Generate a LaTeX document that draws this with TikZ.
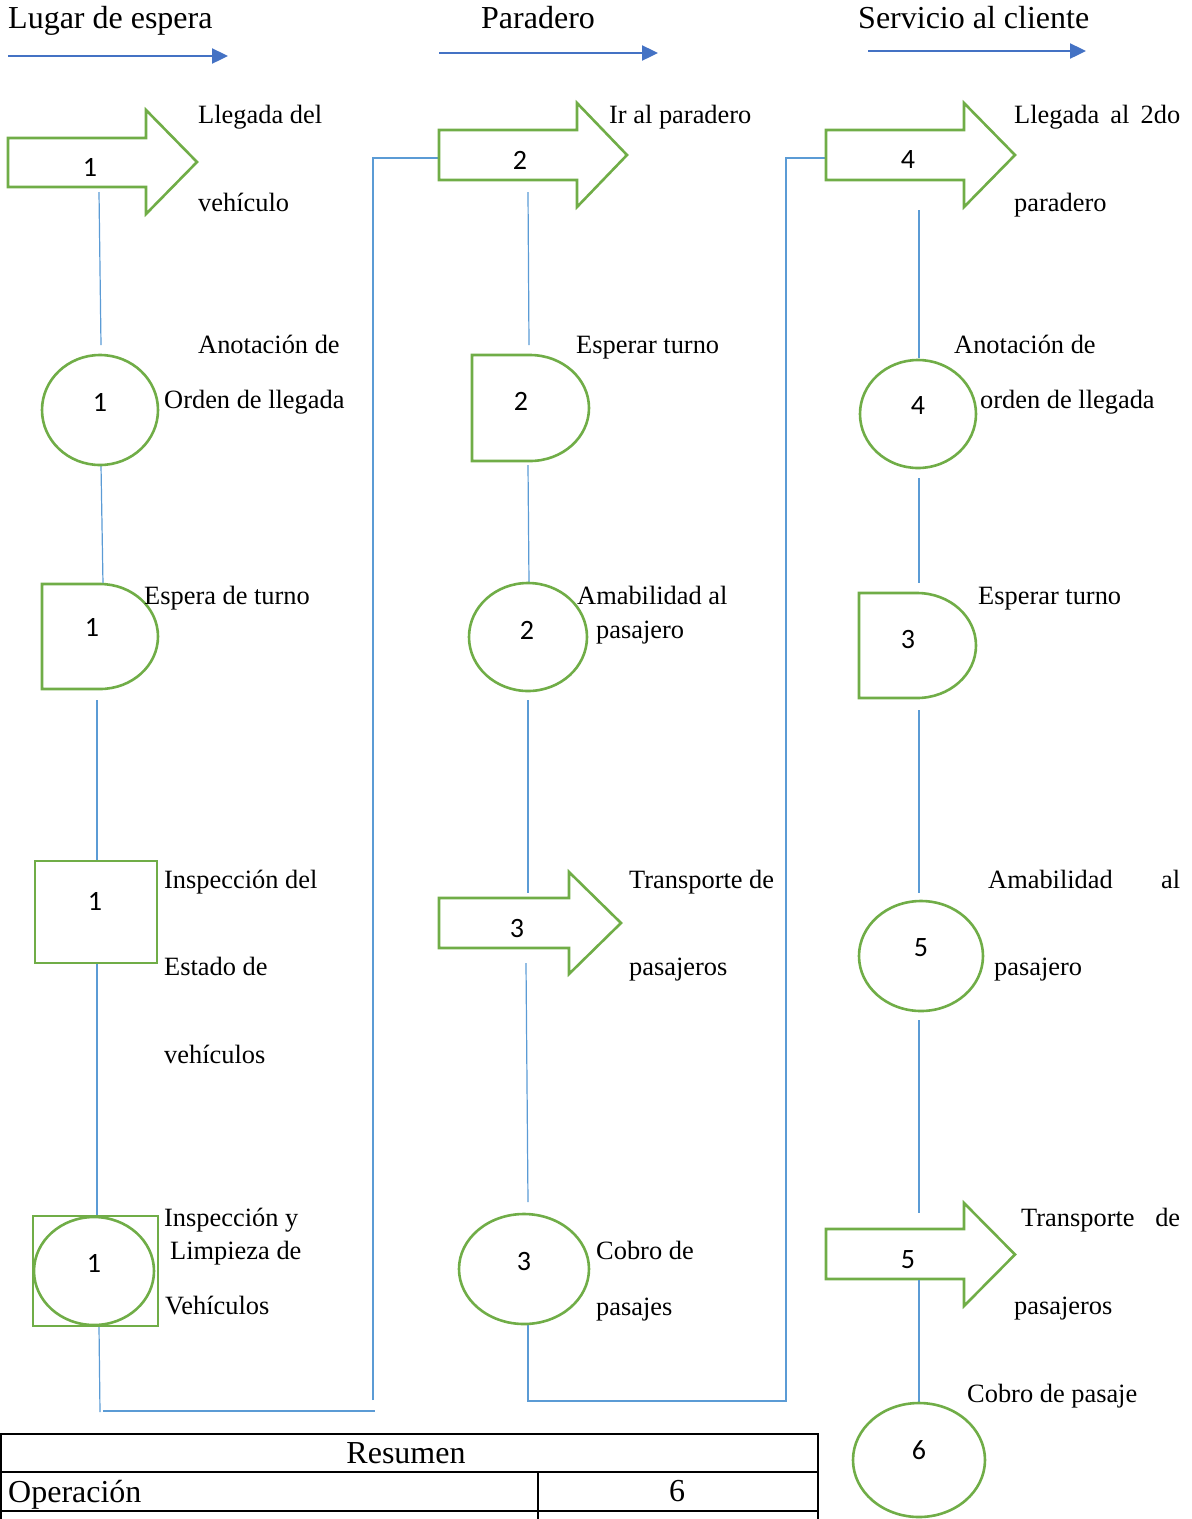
\documentclass[tikz,border=0pt]{standalone}
\usepackage{fontspec}
\setmainfont{Liberation Serif}
\newfontfamily\numfont{Carlito}
\usetikzlibrary{arrows.meta}
\definecolor{shapegreen}{HTML}{70AD47}
\definecolor{linkblue}{HTML}{5B9BD5}
\definecolor{headblue}{HTML}{4472C4}
\tikzset{
  shp/.style={draw=shapegreen, line width=2.6pt, line join=miter},
  conn/.style={draw=linkblue, line width=1.2pt},
  headarrow/.style={draw=headblue, line width=2.4pt, -{Triangle[length=16pt,width=15pt,fill=headblue]}},
  lbl/.style={anchor=base west, inner sep=0pt, font=\fontsize{26.4pt}{30pt}\selectfont},
  head/.style={anchor=base west, inner sep=0pt, font=\fontsize{32pt}{36pt}\selectfont},
  num/.style={inner sep=0pt, font=\numfont\fontsize{28pt}{32pt}\selectfont},
  tline/.style={draw=black, line width=2.4pt},
  ttext/.style={inner sep=0pt, font=\fontsize{32pt}{36pt}\selectfont},
}
% block arrow: shaft left x, shaft top, shaft bottom, head x, head top, head bottom, tip x
\newcommand{\blockarrow}[7]{%
  \path[shp, fill=white] (#1,#2) -- (#4,#2) -- (#4,#5) -- (#7,{(#5+#6)/2}) -- (#4,#6) -- (#4,#3) -- (#1,#3) -- cycle;}
% delay shape: left x, top, bottom, start of the curve x, curve x radius
\newcommand{\delayshape}[5]{%
  \path[shp, fill=white] (#1,#2) -- (#4,#2) arc[start angle=90, end angle=-90, x radius=#5pt, y radius={(#3-#2)/2*1pt}] -- (#1,#3) -- cycle;}
\begin{document}
\begin{tikzpicture}[x=1pt, y=-1pt]
\useasboundingbox (0,0) rectangle (1192,1519);

% ---- section headings ----
\node[head] (h1) at (8,28) {Lugar de espera};
\node[head] (h2) at (481,28) {Paradero};
\node[head] (h3) at (858,28) {Servicio al cliente};
\coordinate (h1a) at (8,56);   \coordinate (h1b) at (228,56);
\coordinate (h2a) at (439,53); \coordinate (h2b) at (658,53);
\coordinate (h3a) at (868,51); \coordinate (h3b) at (1086,51);
\draw[headarrow] (h1a) -- (h1b);
\draw[headarrow] (h2a) -- (h2b);
\draw[headarrow] (h3a) -- (h3b);

% ---- connectors ----
\coordinate (p1) at (99,192);   \coordinate (p2) at (101,345);
\coordinate (p3) at (101,465);  \coordinate (p4) at (103,584);
\coordinate (p5) at (97,700);   \coordinate (p6) at (97,860);
\coordinate (p7) at (97,963);   \coordinate (p8) at (97,1216);
\coordinate (p9) at (99,1326);  \coordinate (p10) at (100,1412);
\coordinate (q1) at (103,1411); \coordinate (q2) at (375,1411);
\coordinate (q3) at (373,1400); \coordinate (q4) at (373,158);
\coordinate (q5) at (439,158);
\coordinate (r1) at (528,192);  \coordinate (r2) at (529,345);
\coordinate (r3) at (528,465);  \coordinate (r4) at (529,583);
\coordinate (r5) at (528,700);  \coordinate (r6) at (528,893);
\coordinate (r7) at (526,963);  \coordinate (r8) at (528,1202);
\coordinate (r9) at (528,1324); \coordinate (r10) at (528,1401);
\coordinate (s1) at (786,1401); \coordinate (s2) at (786,158);
\coordinate (s3) at (826,158);
\coordinate (t1) at (919,210);  \coordinate (t2) at (919,358);
\coordinate (t3) at (919,478);  \coordinate (t4) at (919,583);
\coordinate (t5) at (919,710);  \coordinate (t6) at (919,893);
\coordinate (t7) at (919,1020); \coordinate (t8) at (919,1213);
\coordinate (t9) at (919,1280); \coordinate (t10) at (919,1403);
\draw[conn] (p1) -- (p2);
\draw[conn] (p3) -- (p4);
\draw[conn] (p5) -- (p6);
\draw[conn] (p7) -- (p8);
\draw[conn] (p9) -- (p10);
\draw[conn] (q1) -- (q2);
\draw[conn] (q3) -- (q4) -- (q5);
\draw[conn] (r1) -- (r2);
\draw[conn] (r3) -- (r4);
\draw[conn] (r5) -- (r6);
\draw[conn] (r7) -- (r8);
\draw[conn] (r9) -- (r10) -- (s1) -- (s2) -- (s3);
\draw[conn] (t1) -- (t2);
\draw[conn] (t3) -- (t4);
\draw[conn] (t5) -- (t6);
\draw[conn] (t7) -- (t8);

% ---- column 1: Lugar de espera ----
\blockarrow{8}{138}{187}{146}{110}{214}{197}
\node[num] (a1) at (90,167) {1};
\node[lbl] (la1) at (198,123) {Llegada del};
\node[lbl] (la1b) at (198,211) {vehículo};

\draw[shp] (100,410) ellipse[x radius=58pt, y radius=55pt];
\node[num] (o1) at (100,402) {1};
\node[lbl] (lo1) at (198,353) {Anotación de};
\node[lbl] (lo1b) at (164,408) {Orden de llegada};

\delayshape{42}{584}{689}{100}{58}
\node[num] (d1) at (92,627) {1};
\node[lbl] (ld1) at (144,604) {Espera de turno};

\draw[shp] (35,861) rectangle (157,963);
\node[num] (i1) at (95,901) {1};
\node[lbl] (li1) at (164,888) {Inspección del};
\node[lbl] (li1b) at (164,975) {Estado de};
\node[lbl] (li1c) at (164,1063) {vehículos};

\draw[shp] (33,1216) rectangle (158,1326);
\draw[shp] (94,1271) ellipse[x radius=60pt, y radius=54pt];
\node[num] (c1) at (94,1263) {1};
\node[lbl] (lc1) at (164,1226) {Inspección y};
\node[lbl] (lc1b) at (170,1259) {Limpieza de};
\node[lbl] (lc1c) at (165,1314) {Vehículos};

% ---- column 2: Paradero ----
\blockarrow{439}{130}{180}{577}{103}{207}{627}
\node[num] (a2) at (520,160) {2};
\node[lbl] (la2) at (609,123) {Ir al paradero};

\delayshape{472}{355}{461}{530}{59}
\node[num] (d2) at (521,401) {2};
\node[lbl] (ld2) at (576,353) {Esperar turno};

\draw[shp] (528,637) ellipse[x radius=59pt, y radius=54pt];
\node[num] (o2) at (527,630) {2};
\node[lbl] (lo2) at (577,604) {Amabilidad al};
\node[lbl] (lo2b) at (596,638) {pasajero};

\blockarrow{439}{898}{948}{569}{872}{974}{621}
\node[num] (a3) at (517,928) {3};
\node[lbl] (la3) at (629,888) {Transporte de};
\node[lbl] (la3b) at (629,975) {pasajeros};

\draw[shp] (524,1269) ellipse[x radius=65pt, y radius=55pt];
\node[num] (o3) at (524,1261) {3};
\node[lbl] (lo3) at (596,1259) {Cobro de};
\node[lbl] (lo3b) at (596,1315) {pasajes};

% ---- column 3: Servicio al cliente ----
\blockarrow{826}{130}{180}{964}{103}{207}{1015}
\node[num] (a4) at (908,160) {4};
\node[lbl] (la4) at (1014,123) {\hbox to 166pt{Llegada\hfill al\hfill 2do}};
\node[lbl] (la4b) at (1014,211) {paradero};

\draw[shp] (918,414) ellipse[x radius=58pt, y radius=54pt];
\node[num] (o4) at (918,406) {4};
\node[lbl] (lo4) at (954,353) {Anotación de};
\node[lbl] (lo4b) at (980,408) {orden de llegada};

\delayshape{859}{593}{698}{917}{59}
\node[num] (d3) at (908,639) {3};
\node[lbl] (ld3) at (978,604) {Esperar turno};

\draw[shp] (921,956) ellipse[x radius=62pt, y radius=55pt];
\node[num] (o5) at (921,948) {5};
\node[lbl] (lo5) at (988,888) {\hbox to 192pt{Amabilidad\hfill al}};
\node[lbl] (lo5b) at (994,975) {pasajero};

\blockarrow{826}{1229}{1279}{964}{1203}{1306}{1015}
\node[num] (a5) at (908,1260) {5};
\node[lbl] (la5) at (1021,1226) {\hbox to 159pt{Transporte\hfill de}};
\node[lbl] (la5b) at (1014,1314) {pasajeros};
\draw[conn] (t9) -- (t10);

\draw[shp] (919,1460) ellipse[x radius=66pt, y radius=57pt];
\node[num] (o6) at (919,1450) {6};
\node[lbl] (lo6) at (967,1402) {Cobro de pasaje};

% ---- summary table ----
\coordinate (tb1) at (1,1434);   \coordinate (tb2) at (818,1434);
\coordinate (tb3) at (818,1519); \coordinate (tb4) at (1,1519);
\draw[tline] (tb4) -- (tb1) -- (tb2) -- (tb3);
\draw[tline] (0,1472) -- (818,1472);
\draw[tline] (0,1511) -- (818,1511);
\draw[tline] (538,1472) -- (538,1519);
\node[ttext] (tr) at (406,1453) {Resumen};
\node[ttext, anchor=base west] (top) at (8,1502) {Operación};
\node[ttext] (tov) at (677,1491) {6};
\end{tikzpicture}
\end{document}
